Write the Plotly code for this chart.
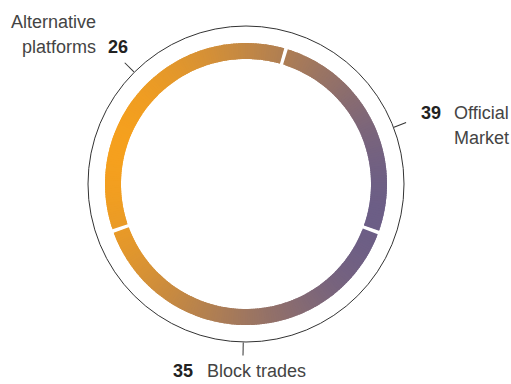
import math
import plotly.graph_objects as go

# ---- data ----
ring_values = [26, 39, 35]          # ring segments, clockwise
ring_start_deg = 16.5               # where the first segment starts
label_names = ["Alternative platforms", "Official Market", "Block trades"]
label_values = [26, 39, 35]
label_angles = [315, 69, 181]       # tick positions on the outer circle

W, H = 511, 384
CX, CY, R = 246, 184, 158
R_OUT, R_IN = 141, 125
GAP = 1.5
ORANGE = (245, 160, 30)
PURPLE = (108, 94, 134)
GRAD_ANGLE = math.radians(15)


def grad_color(theta_deg):
    th = math.radians(theta_deg)
    x = math.sin(th)
    yd = -math.cos(th)
    p = math.cos(GRAD_ANGLE) * x + math.sin(GRAD_ANGLE) * yd
    t = min(max((p + 1) / 2, 0), 1)
    c = [round(a + (b - a) * t) for a, b in zip(ORANGE, PURPLE)]
    return "rgb(%d,%d,%d)" % tuple(c)


total = sum(ring_values)
thetas, widths, colors = [], [], []
cum = 0
for v in ring_values:
    a0 = ring_start_deg + cum / total * 360 + GAP / 2
    a1 = ring_start_deg + (cum + v) / total * 360 - GAP / 2
    cum += v
    n = max(int((a1 - a0) / 1.0), 1)
    step = (a1 - a0) / n
    for i in range(n):
        # each slice starts at its own edge and overlaps the next one
        s = a0 + step * i
        e = a1 if i == n - 1 else min(s + step * 1.8, a1)
        thetas.append(((s + e) / 2) % 360)
        widths.append(e - s)
        colors.append(grad_color(s + step / 2))

fig = go.Figure()
fig.add_trace(go.Barpolar(
    r=[R_OUT - R_IN] * len(thetas),
    base=[R_IN] * len(thetas),
    theta=thetas,
    width=widths,
    marker=dict(color=colors, line=dict(width=0)),
    hoverinfo="skip",
    showlegend=False,
))

fig.update_layout(
    width=W, height=H,
    margin=dict(l=0, r=0, t=0, b=0),
    paper_bgcolor="white",
    plot_bgcolor="white",
    showlegend=False,
    polar=dict(
        domain=dict(x=[(CX - R) / W, (CX + R) / W],
                    y=[(H - CY - R) / H, (H - CY + R) / H]),
        bgcolor="white",
        bargap=0,
        radialaxis=dict(range=[0, R], visible=False, showgrid=False,
                        showline=False, showticklabels=False, ticks=""),
        angularaxis=dict(
            rotation=90, direction="clockwise",
            showgrid=False, showline=True, linecolor="#333333", linewidth=1,
            ticks="outside", ticklen=13, tickwidth=1, tickcolor="#333333",
            tickvals=label_angles, showticklabels=False,
        ),
    ),
)

TXT = dict(family="Liberation Sans, Arial, sans-serif", size=18, color="#444444")
NUM = dict(family="Liberation Sans, Arial, sans-serif", size=18, color="#222222")


def ann(text, x, y, xanchor, font):
    fig.add_annotation(text=text, x=x / W, y=1 - y / H, xref="paper", yref="paper",
                       xanchor=xanchor, yanchor="middle", showarrow=False, font=font)


# Alternative platforms (top left)
ann("Alternative", 98, 22, "right", TXT)
ann("platforms", 98, 47, "right", TXT)
ann("<b>%d</b>" % label_values[0], 106, 47, "left", NUM)
# Official Market (right)
ann("<b>%d</b>" % label_values[1], 443, 113, "right", NUM)
ann("Official", 452, 113, "left", TXT)
ann("Market", 452, 138, "left", TXT)
# Block trades (bottom)
ann("<b>%d</b>" % label_values[2], 195, 371, "right", NUM)
ann("Block trades", 205, 371, "left", TXT)

fig.write_html("out.html")
